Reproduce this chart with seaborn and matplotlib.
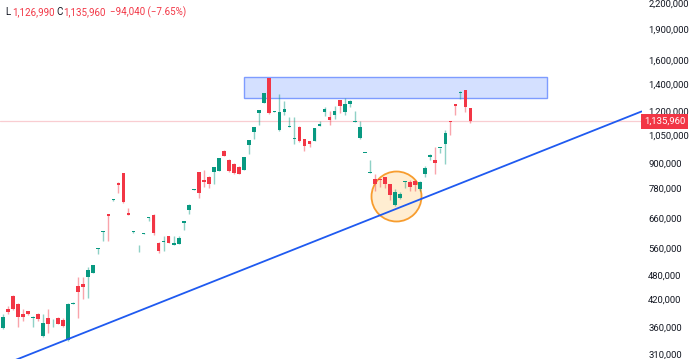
import numpy as np
import pandas as pd
import matplotlib
matplotlib.use('Agg')
import matplotlib.pyplot as plt
import matplotlib.transforms as mtrans
from matplotlib.patches import Rectangle
from matplotlib.ticker import NullLocator
import seaborn as sns

# OHLC values (one row per candle, oldest first)
opens = [357000, 398000, 427000, 409000, 388000, 393000, 378000, 387000, 343000, 378000,
         361000, 378000, 374000, 335000, 410000, 453000, 458000, 477000, 488000, 557000,
         612000, 676000, 731000, 805000, 849000, 680000, 611000, 546000, 605000, 662000,
         673000, 577000, 578000, 598000, 570000, 572000, 643000, 692000, 775000, 854000,
         819000, 834000, 854000, 862000, 961000, 915000, 896000, 881000, 867000, 996000,
         1071000, 1192000, 1261000, 1447000, 1197000, 1081000, 1196000, 1098000, 1028000, 1103000,
         1027000, 1018000, 1018000, 1108000, 1196000, 1163000, 1177000, 1280000, 1199000, 1250000,
         1134000, 1033000, 951000, 853000, 821000, 823000, 830000, 799000, 710000, 740000,
         811000, 808000, 813000, 776000, 846000, 931000, 916000, 978000, 1001000, 1137000,
         1250000, 1333000, 1351000, 1222000]
highs = [388000, 405000, 430000, 411000, 399000, 394000, 382000, 389000, 388000, 399000,
         376000, 380000, 379000, 412000, 413000, 477000, 477000, 503000, 510000, 560000,
         615000, 678000, 734000, 807000, 852000, 700000, 614000, 570000, 607000, 666000,
         675000, 578000, 598000, 599000, 598000, 600000, 652000, 714000, 778000, 856000,
         865000, 836000, 880000, 925000, 966000, 918000, 900000, 884000, 931000, 1023000,
         1101000, 1212000, 1330000, 1450000, 1202000, 1324000, 1273000, 1163000, 1163000, 1105000,
         1029000, 1020000, 1096000, 1140000, 1233000, 1204000, 1238000, 1282000, 1293000, 1282000,
         1205000, 1136000, 954000, 917000, 846000, 826000, 832000, 802000, 776000, 767000,
         815000, 819000, 816000, 812000, 886000, 944000, 985000, 981000, 1083000, 1138000,
         1253000, 1346000, 1355000, 1224000]
lows = [355000, 388000, 396000, 359000, 373000, 385000, 359000, 373000, 341000, 349000,
        360000, 365000, 359000, 333000, 409000, 379000, 421000, 423000, 486000, 542000,
        582000, 582000, 729000, 759000, 720000, 672000, 610000, 546000, 604000, 651000,
        602000, 544000, 549000, 576000, 570000, 571000, 620000, 677000, 774000, 738000,
        788000, 781000, 800000, 860000, 935000, 858000, 847000, 844000, 865000, 947000,
        1028000, 1113000, 1257000, 1186000, 1196000, 1078000, 1177000, 1098000, 1001000, 1012000,
        963000, 986000, 1016000, 1107000, 1172000, 1114000, 1150000, 1193000, 1177000, 1233000,
        1133000, 1030000, 950000, 852000, 771000, 789000, 781000, 732000, 708000, 736000,
        781000, 771000, 771000, 771000, 830000, 917000, 845000, 951000, 895000, 1053000,
        1177000, 1285000, 1195000, 1126990]
closes = [381000, 391000, 398000, 381000, 381000, 386000, 380000, 376000, 369000, 367000,
          362000, 367000, 361000, 410000, 412000, 438000, 449000, 495000, 509000, 559000,
          614000, 668000, 733000, 796000, 723000, 673000, 613000, 548000, 607000, 665000,
          608000, 551000, 580000, 577000, 576000, 591000, 651000, 713000, 777000, 762000,
          808000, 799000, 878000, 924000, 938000, 861000, 849000, 846000, 929000, 1021000,
          1100000, 1210000, 1327000, 1188000, 1200000, 1199000, 1220000, 1100000, 1031000, 1017000,
          987000, 1000000, 1094000, 1122000, 1216000, 1141000, 1204000, 1240000, 1252000, 1269000,
          1137000, 1103000, 953000, 855000, 800000, 819000, 799000, 751000, 764000, 757000,
          813000, 785000, 796000, 809000, 874000, 942000, 900000, 981000, 1063000, 1129000,
          1240000, 1337000, 1230000, 1135960]

price_ticks = [310000, 360000, 420000, 480000, 560000, 660000, 780000, 900000, 1050000,
               1200000, 1400000, 1600000, 1900000, 2200000]

# drawings on the chart
trend_x = [0, 127]
trend_y = [291000, 1200000]
zone_x = [48, 108.2]
zone_y = [1294000, 1455000]
circle_x = [78.1]
circle_y = [748000]

header_labels = ['L', '1,126,990', 'C', '1,135,960', '\u221294,040 (\u22127.65%)']

UP = '#089981'
DOWN = '#F23645'

df = pd.DataFrame({'open': opens, 'high': highs, 'low': lows, 'close': closes})
df['idx'] = np.arange(len(df))
df['up'] = df['close'] >= df['open']
df['color'] = np.where(df['up'], UP, DOWN)

sns.set_theme(style='white')
plt.rcParams['font.family'] = ['Roboto', 'DejaVu Sans']

fig = plt.figure(figsize=(6.9, 3.59), dpi=100)
ax = fig.add_axes([0, 0, 642 / 690, 1])
ax.set_yscale('log')

# zone and circle highlights
ax.add_patch(Rectangle((zone_x[0], zone_y[0]), zone_x[1] - zone_x[0], zone_y[1] - zone_y[0],
                       facecolor='#D4E0FF', edgecolor='#7E9CFF', lw=1, zorder=1))
sns.scatterplot(x=circle_x, y=circle_y, s=1296, color='#FFEBCC', edgecolor='#F7931A',
                linewidth=1.3, alpha=0.9, zorder=1, ax=ax, legend=False)

# current price line
ax.axhline(closes[-1], color='#F9CDD1', lw=0.9, zorder=0)

# candles
ax.vlines(df['idx'], df['low'], df['high'], colors=df['color'], alpha=0.45, lw=1, zorder=2)
bottoms = np.minimum(df['open'], df['close'])
heights = np.abs(df['close'] - df['open'])
heights = np.maximum(heights, bottoms * 0.005)
ax.bar(df['idx'], heights, bottom=bottoms, width=0.72, color=df['color'], lw=0, zorder=3)

# trend line
sns.lineplot(x=trend_x, y=trend_y, color='#1F5AF0', lw=1.3, zorder=4, ax=ax)

ax.set_xlim(-0.537, 127.1)
ax.set_ylim(301000, 2237000)
ax.yaxis.tick_right()
ax.set_yticks(price_ticks)
ax.set_yticklabels([f'{t:,}' for t in price_ticks])
ax.yaxis.set_minor_locator(NullLocator())
ax.tick_params(axis='y', length=0, pad=4.5, labelsize=6.8, labelcolor='#131722')
ax.set_xticks([])
for s in ax.spines.values():
    s.set_visible(False)

# last price badge
trans = mtrans.blended_transform_factory(ax.transAxes, ax.transData)
ax.text(1.003, closes[-1], f'{closes[-1]:,}', transform=trans, ha='left', va='center',
        fontsize=6.8, color='white', zorder=6, clip_on=False,
        bbox=dict(boxstyle='square,pad=0.3', fc=DOWN, ec='none'))

# header text
hx = [5, 12.3, 56.7, 63.3, 110]
hc = ['#131722', DOWN, '#131722', DOWN, DOWN]
for x, lab, c in zip(hx, header_labels, hc):
    fig.text(x / 690, 1 - 12 / 359, lab, color=c, fontsize=7, va='center', ha='left')

fig.savefig('out.png', dpi=100)
